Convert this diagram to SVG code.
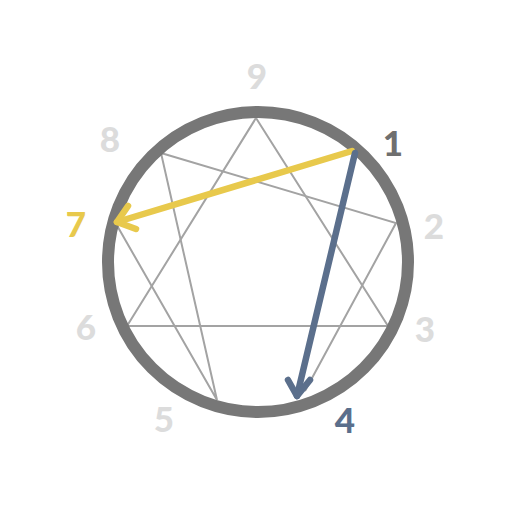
<svg xmlns="http://www.w3.org/2000/svg" width="517" height="517" viewBox="0 0 517 517">
<style>
.lbl{font-family:Lato,"Open Sans","DejaVu Sans",sans-serif;font-weight:900;font-size:35px;text-anchor:middle;dominant-baseline:central}
.grey{fill:#dcdcdc}
.inner{stroke:#a3a3a3;stroke-width:2;fill:none}
.arrow{fill:none;stroke-width:6.5;stroke-linecap:round;stroke-linejoin:round}
</style>
<rect width="517" height="517" fill="#ffffff"/>
<g id="lines">
<polygon class="inner" points="256,118 388,326 127,326"/>
<polyline class="inner" points="305,391 396,223 161,153 217,400 115,222"/>
</g>
<g id="ring">
<circle cx="258" cy="262" r="150" fill="none" stroke="#777777" stroke-width="12"/>
</g>
<g id="connectors">
<g id="arrow-1-7" stroke="#e8c94c" class="arrow">
<line x1="352" y1="151" x2="117" y2="222"/>
<polyline points="128,206 117,222 136,229"/>
</g>
<g id="arrow-1-4" stroke="#5b6f8c" class="arrow">
<line x1="355" y1="153" x2="297" y2="396"/>
<polyline points="288,380 297,396 310,380"/>
</g>
</g>
<g id="n9"><text class="lbl grey" x="257" y="75">9</text></g>
<g id="n1"><text class="lbl" fill="#6f6f6f" x="393" y="142">1</text></g>
<g id="n2"><text class="lbl grey" x="434" y="225">2</text></g>
<g id="n3"><text class="lbl grey" x="425" y="328">3</text></g>
<g id="n4"><text class="lbl" fill="#5b6f8c" x="345" y="419">4</text></g>
<g id="n5"><text class="lbl grey" x="164" y="418">5</text></g>
<g id="n6"><text class="lbl grey" x="86" y="326">6</text></g>
<g id="n7"><text class="lbl" fill="#e8c94c" x="76" y="223">7</text></g>
<g id="n8"><text class="lbl grey" x="110" y="138">8</text></g>
</svg>
